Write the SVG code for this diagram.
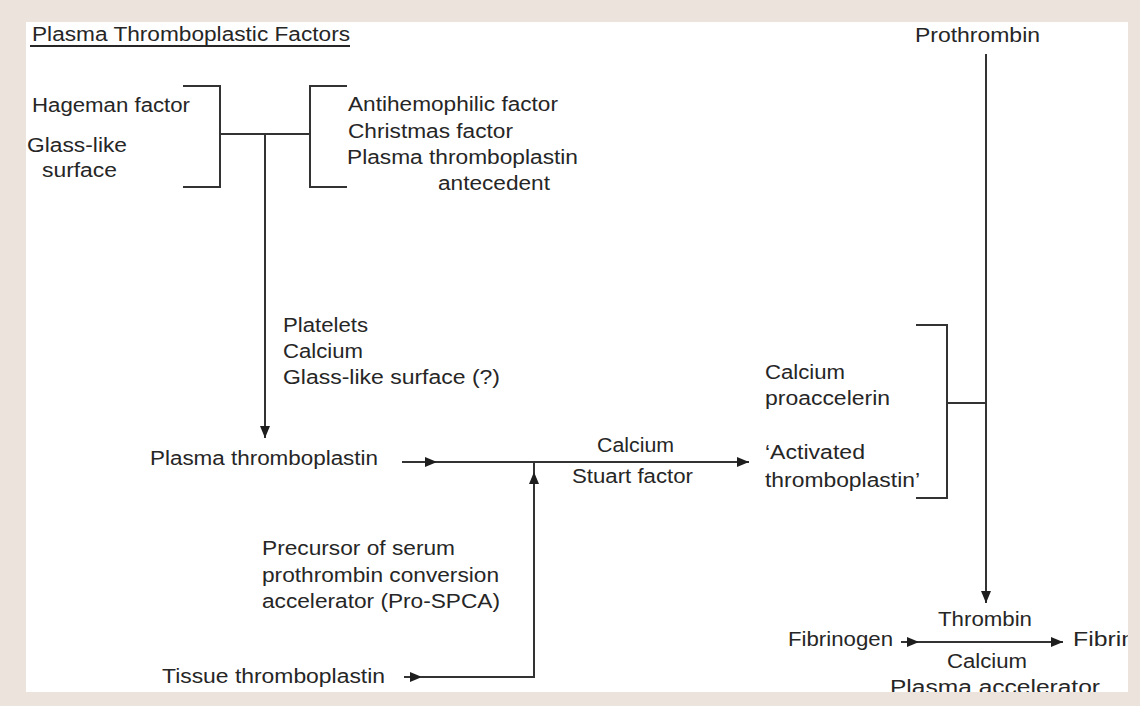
<svg xmlns="http://www.w3.org/2000/svg" width="1140" height="706" viewBox="0 0 1140 706">
  <style>
    text { font-family: "Liberation Sans", Arial, sans-serif; font-size: 20px; fill: #262626; }
    .ln { stroke: #333333; stroke-width: 2; fill: none; }
    .bracket { stroke: #333333; stroke-width: 2; fill: none; }
  </style>
  <defs>
    <marker id="tri" viewBox="0 0 12 10" refX="12" refY="5" markerWidth="12" markerHeight="10" markerUnits="userSpaceOnUse" orient="auto">
      <path d="M0,0 L12,5 L0,10 Z" fill="#1e1e1e"/>
    </marker>
  </defs>

  <!-- page -->
  <rect x="0" y="0" width="1140" height="706" fill="#ece3dd"/>
  <rect x="26" y="22" width="1102" height="670" fill="#ffffff"/>

  <!-- heading -->
  <g id="heading">
    <text x="32" y="41" textLength="318" lengthAdjust="spacingAndGlyphs">Plasma Thromboplastic Factors</text>
    <line x1="30" y1="46" x2="350" y2="46" stroke="#262626" stroke-width="2"/>
  </g>

  <!-- contact factors -->
  <g id="contact-factors">
    <text x="32" y="112" textLength="158" lengthAdjust="spacingAndGlyphs">Hageman factor</text>
    <text x="27" y="152" textLength="100" lengthAdjust="spacingAndGlyphs">Glass-like</text>
    <text x="42" y="177" textLength="75" lengthAdjust="spacingAndGlyphs">surface</text>
    <path class="bracket" d="M183,86 H220 V187 H183"/>
  </g>

  <g id="plasma-factors">
    <text x="348" y="111" textLength="210" lengthAdjust="spacingAndGlyphs">Antihemophilic factor</text>
    <text x="348" y="138" textLength="165" lengthAdjust="spacingAndGlyphs">Christmas factor</text>
    <text x="347" y="164" textLength="231" lengthAdjust="spacingAndGlyphs">Plasma thromboplastin</text>
    <text x="438" y="190" textLength="112" lengthAdjust="spacingAndGlyphs">antecedent</text>
    <path class="bracket" d="M347,86 H310 V187 H347"/>
  </g>

  <g id="cofactors-1">
    <text x="283" y="332" textLength="85" lengthAdjust="spacingAndGlyphs">Platelets</text>
    <text x="283" y="358" textLength="80" lengthAdjust="spacingAndGlyphs">Calcium</text>
    <text x="283" y="384" textLength="217" lengthAdjust="spacingAndGlyphs">Glass-like surface (?)</text>
  </g>

  <g id="plasma-thromboplastin">
    <text x="150" y="465" textLength="228" lengthAdjust="spacingAndGlyphs">Plasma thromboplastin</text>
  </g>

  <g id="cofactors-2">
    <text x="597" y="452" textLength="77" lengthAdjust="spacingAndGlyphs">Calcium</text>
    <text x="572" y="483" textLength="121" lengthAdjust="spacingAndGlyphs">Stuart factor</text>
  </g>

  <g id="pro-spca">
    <text x="262" y="555" textLength="193" lengthAdjust="spacingAndGlyphs">Precursor of serum</text>
    <text x="262" y="582" textLength="237" lengthAdjust="spacingAndGlyphs">prothrombin conversion</text>
    <text x="262" y="608" textLength="238" lengthAdjust="spacingAndGlyphs">accelerator (Pro-SPCA)</text>
  </g>

  <g id="tissue-thromboplastin">
    <text x="162" y="683" textLength="223" lengthAdjust="spacingAndGlyphs">Tissue thromboplastin</text>
  </g>

  <g id="activated-thromboplastin">
    <text x="765" y="459" textLength="100" lengthAdjust="spacingAndGlyphs">‘Activated</text>
    <text x="765" y="487" textLength="155" lengthAdjust="spacingAndGlyphs">thromboplastin’</text>
  </g>

  <g id="cofactors-3">
    <text x="765" y="379" textLength="80" lengthAdjust="spacingAndGlyphs">Calcium</text>
    <text x="765" y="405" textLength="125" lengthAdjust="spacingAndGlyphs">proaccelerin</text>
    <path class="bracket" d="M916,325 H947 V498 H916"/>
  </g>

  <g id="prothrombin">
    <text x="915" y="42" textLength="125" lengthAdjust="spacingAndGlyphs">Prothrombin</text>
  </g>

  <g id="thrombin-step">
    <text x="938" y="626" textLength="94" lengthAdjust="spacingAndGlyphs">Thrombin</text>
    <text x="947" y="668" textLength="80" lengthAdjust="spacingAndGlyphs">Calcium</text>
    <text x="890" y="694" textLength="210" lengthAdjust="spacingAndGlyphs">Plasma accelerator</text>
  </g>

  <g id="fibrinogen">
    <text x="788" y="646" textLength="105" lengthAdjust="spacingAndGlyphs">Fibrinogen</text>
  </g>

  <g id="fibrin">
    <text x="1073" y="646" textLength="62" lengthAdjust="spacingAndGlyphs">Fibrin</text>
  </g>

  <!-- connectors -->
  <g id="connectors">
    <line class="ln" x1="220" y1="134" x2="310" y2="134"/>
    <line class="ln" x1="265" y1="134" x2="265" y2="438" marker-end="url(#tri)"/>

    <line class="ln" x1="402" y1="462" x2="437" y2="462" marker-end="url(#tri)"/>
    <line class="ln" x1="436" y1="462" x2="749" y2="462" marker-end="url(#tri)"/>

    <line class="ln" x1="404" y1="677" x2="422" y2="677" marker-end="url(#tri)"/>
    <path class="ln" d="M420,677 H534 V462"/>
    <line class="ln" x1="534" y1="500" x2="534" y2="472" marker-end="url(#tri)"/>

    <line class="ln" x1="947" y1="403" x2="986" y2="403"/>
    <line class="ln" x1="986" y1="54" x2="986" y2="603" marker-end="url(#tri)"/>

    <line class="ln" x1="901" y1="642" x2="919" y2="642" marker-end="url(#tri)"/>
    <line class="ln" x1="918" y1="642" x2="1063" y2="642" marker-end="url(#tri)"/>
  </g>

  <!-- border drawn last so it trims text at the edges -->
  <path d="M0,0 H1140 V706 H0 Z M26,22 V692 H1128 V22 Z" fill="#ece3dd" fill-rule="evenodd"/>
</svg>
